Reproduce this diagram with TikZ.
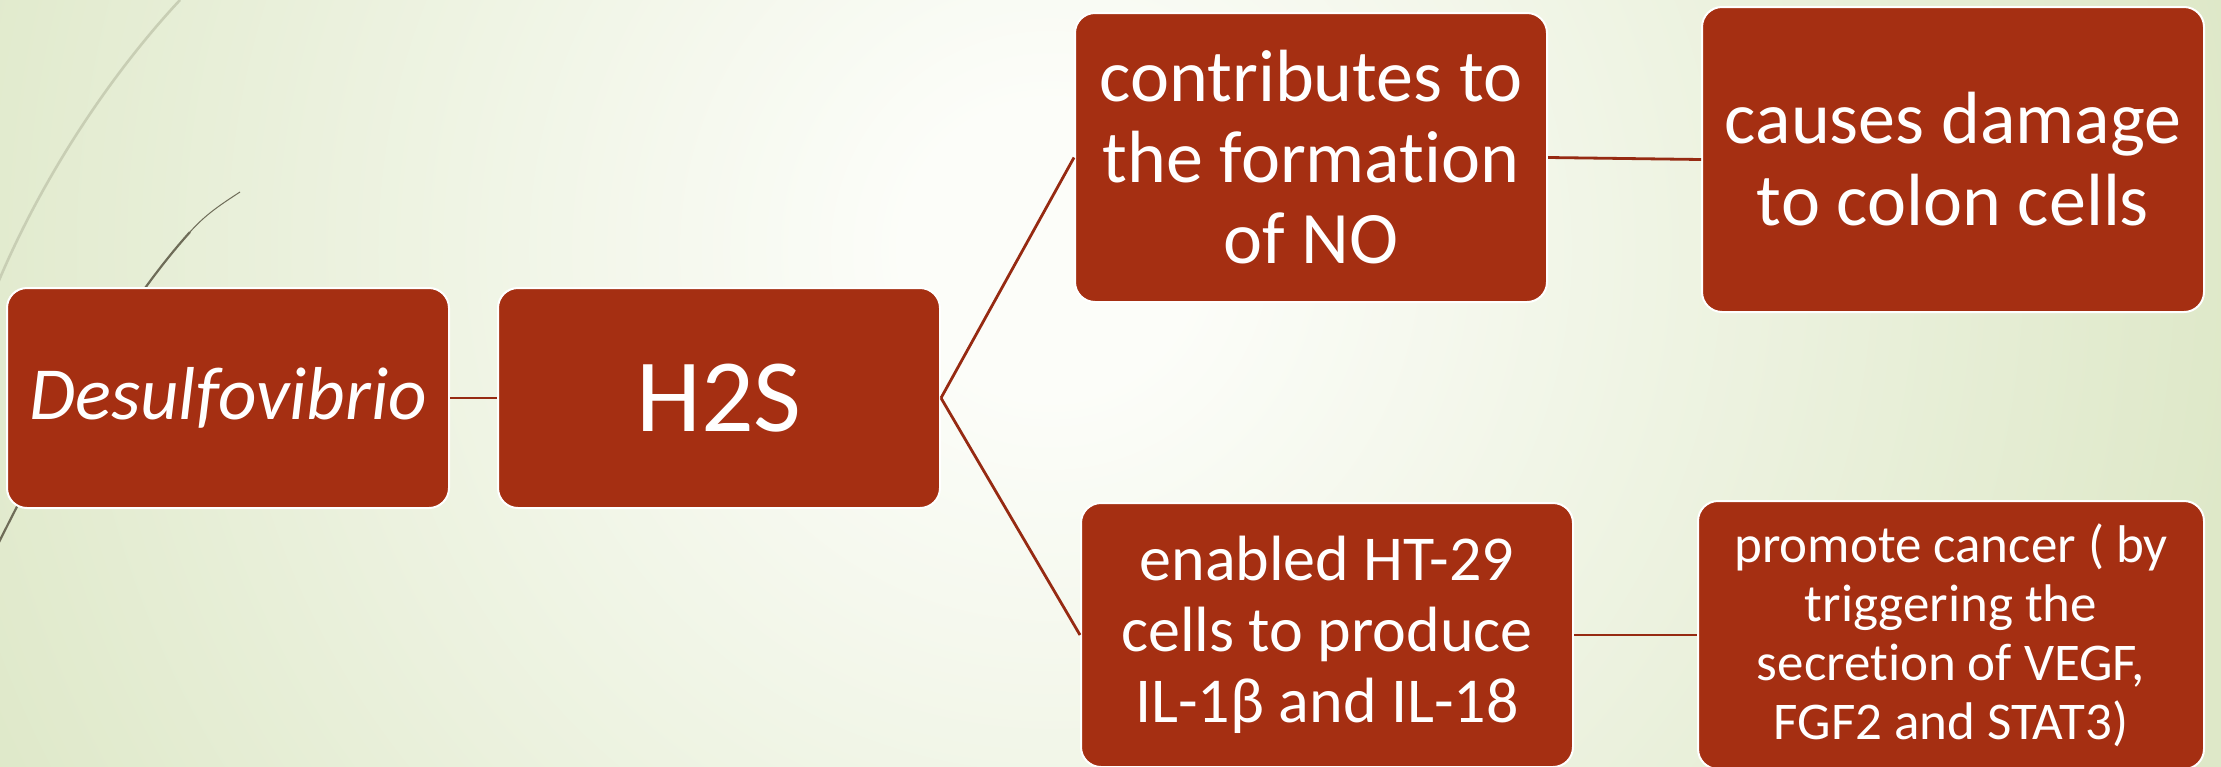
\documentclass[tikz,border=0pt]{standalone}
\usepackage{fontspec}
\setmainfont[Ligatures=NoCommon]{Carlito}
\definecolor{boxred}{RGB}{165,47,18}
\definecolor{linkred}{RGB}{150,42,18}
\definecolor{bgin}{RGB}{252,253,249}
\definecolor{bgout}{RGB}{222,232,200}
\definecolor{wispl}{RGB}{200,206,180}
\definecolor{wispd}{RGB}{110,108,88}
\pgfdeclareradialshading{bgshade}{\pgfpoint{0bp}{0bp}}{color(0bp)=(bgin); color(3bp)=(bgin); color(25bp)=(bgout); color(50bp)=(bgout)}
\begin{document}
\begin{tikzpicture}[x=0.5pt,y=-0.5pt,
  box/.style={fill=boxred, draw=white, line width=1pt, rounded corners=10pt,
    text=white, align=center, inner sep=0pt},
  link/.style={draw=linkred, line width=1.4pt}]
\useasboundingbox (0,0) rectangle (2221,766);
\begin{scope}
\clip (0,0) rectangle (2221,766);
\shade[shading=bgshade] (-150,-950) rectangle (2250,1450);
% decorative wisps
\draw[wispl, line width=1.3pt] (180,0) .. controls (110,75) and (40,180) .. (-5,290);
\draw[wispd, line width=0.5pt] (240,192) .. controls (220,205) and (205,215) .. (190,232);
\draw[wispd, line width=1.1pt] (190,232) .. controls (120,310) and (60,420) .. (-10,560);

\node[box, minimum width=221pt, minimum height=110pt,
  font=\fontsize{37.5}{41}\selectfont\itshape] (des) at (228,398) {Desulfovibrio};
\node[box, minimum width=221pt, minimum height=110pt,
  font=\fontsize{52}{56}\selectfont] (h2s) at (719,398) {H2S};
\node[box, minimum width=236pt, minimum height=144.5pt,
  font=\fontsize{37}{40.5}\selectfont] (con) at (1311,157.5)
  {contributes to\\the format\kern0pt ion\\of NO};
\node[box, minimum width=251pt, minimum height=152.5pt,
  font=\fontsize{37}{41}\selectfont] (cau) at (1953,159.5)
  {causes damage\\to colon cells};
\node[box, minimum width=246pt, minimum height=132pt,
  font=\fontsize{32}{35.5}\selectfont] (ena) at (1327,635)
  {enabled HT-29\\cells to produce\\IL-1β and IL-18};
\node[box, minimum width=253pt, minimum height=134pt,
  font=\fontsize{26.5}{29.5}\selectfont] (pro) at (1951,635)
  {promote cancer ( by\\triggering the\\secret\kern0pt ion of VEGF,\\FGF2 and STAT3)};

\draw[link] (des.east) -- (h2s.west);
\draw[link] (h2s.east) -- (con.west);
\draw[link] (h2s.east) -- (ena.west);
\draw[link] (con.east) -- (cau.west);
\draw[link] (ena.east) -- (pro.west);
\end{scope}
\end{tikzpicture}
\end{document}
